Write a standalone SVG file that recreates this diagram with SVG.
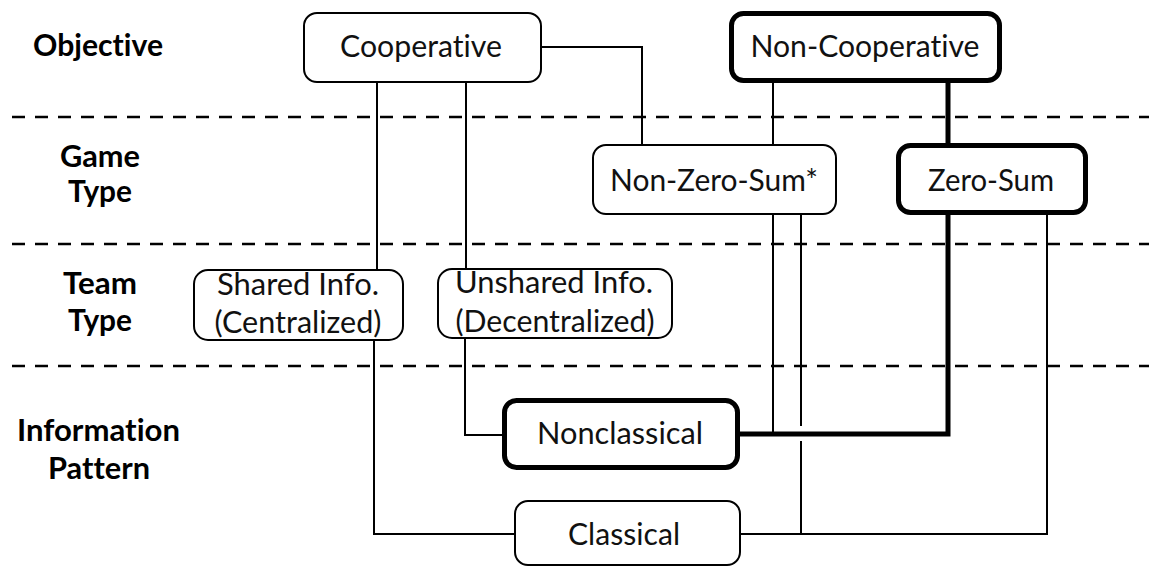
<svg xmlns="http://www.w3.org/2000/svg" width="1149" height="567" viewBox="0 0 1149 567">
<style>
  .bg{fill:#ffffff}
  .box{fill:#ffffff;stroke:#000;stroke-width:2}
  .boxB{fill:#ffffff;stroke:#000;stroke-width:5}
  .t{font-family:Lato,"Open Sans","Liberation Sans",sans-serif;font-size:30px;fill:#111;text-anchor:middle;font-variant-ligatures:none}
  .lbl{font-family:Lato,"Open Sans","Liberation Sans",sans-serif;font-size:30px;font-weight:bold;fill:#000;text-anchor:middle;font-variant-ligatures:none}
  .sep{stroke:#000;stroke-width:2.5;stroke-dasharray:13 10;fill:none}
  .c{stroke:#000;stroke-width:2;fill:none}
  .cB{stroke:#000;stroke-width:5;fill:none}
</style>
<rect class="bg" x="0" y="0" width="1149" height="567"/>
<g id="separators">
  <line class="sep" x1="12" y1="117" x2="1149" y2="117"/>
  <line class="sep" x1="12" y1="244" x2="1149" y2="244"/>
  <line class="sep" x1="12" y1="366" x2="1149" y2="366"/>
</g>
<g id="row-labels">
  <text class="lbl" x="98" y="56" textLength="130" lengthAdjust="spacingAndGlyphs">Objective</text>
  <text class="lbl" x="100" y="167" textLength="80" lengthAdjust="spacingAndGlyphs">Game</text>
  <text class="lbl" x="100" y="202" textLength="64" lengthAdjust="spacingAndGlyphs">Type</text>
  <text class="lbl" x="100" y="294" textLength="74" lengthAdjust="spacingAndGlyphs">Team</text>
  <text class="lbl" x="100" y="331" textLength="64" lengthAdjust="spacingAndGlyphs">Type</text>
  <text class="lbl" x="98.5" y="441" textLength="163" lengthAdjust="spacingAndGlyphs">Information</text>
  <text class="lbl" x="99" y="479" textLength="102" lengthAdjust="spacingAndGlyphs">Pattern</text>
</g>
<g id="connectors">
  <path class="c" d="M377 82 V270"/>
  <path class="c" d="M466 82 V269"/>
  <path class="c" d="M541 47 H642 V145"/>
  <path class="c" d="M773 82 V145"/>
  <path class="cB" d="M948 82 V145"/>
  <path class="c" d="M773 215 V432"/>
  <path class="c" d="M801 215 V426"/>
  <path class="c" d="M801 441 V534"/>
  <path class="cB" d="M948 215 V434 H738"/>
  <path class="c" d="M1047 215 V534 H740"/>
  <path class="c" d="M374 340 V534 H515"/>
  <path class="c" d="M465 338 V435 H504"/>
</g>
<g id="cooperative">
  <rect class="box" x="304" y="13" width="237" height="69" rx="13"/>
  <text class="t" x="421" y="57" textLength="162" lengthAdjust="spacingAndGlyphs">Cooperative</text>
</g>
<g id="non-cooperative">
  <rect class="boxB" x="731.5" y="13.5" width="268" height="67" rx="12"/>
  <text class="t" x="865" y="57" textLength="229" lengthAdjust="spacingAndGlyphs">Non-Cooperative</text>
</g>
<g id="non-zero-sum">
  <rect class="box" x="593" y="145" width="243" height="69" rx="13"/>
  <text class="t" x="714" y="191" textLength="208" lengthAdjust="spacingAndGlyphs">Non-Zero-Sum*</text>
</g>
<g id="zero-sum">
  <rect class="boxB" x="898.5" y="145.5" width="187" height="67" rx="12"/>
  <text class="t" x="991" y="191" textLength="126" lengthAdjust="spacingAndGlyphs">Zero-Sum</text>
</g>
<g id="shared-info">
  <rect class="box" x="194" y="270" width="209" height="70" rx="14"/>
  <text class="t" x="298" y="295" textLength="162" lengthAdjust="spacingAndGlyphs">Shared Info.</text>
  <text class="t" x="298" y="333" textLength="167" lengthAdjust="spacingAndGlyphs">(Centralized)</text>
</g>
<g id="unshared-info">
  <rect class="box" x="438" y="269" width="234" height="69" rx="14"/>
  <text class="t" x="554" y="293" textLength="198" lengthAdjust="spacingAndGlyphs">Unshared Info.</text>
  <text class="t" x="555" y="332" textLength="199" lengthAdjust="spacingAndGlyphs">(Decentralized)</text>
</g>
<g id="nonclassical">
  <rect class="boxB" x="504.5" y="400.5" width="233" height="67" rx="12"/>
  <text class="t" x="620" y="444" textLength="166" lengthAdjust="spacingAndGlyphs">Nonclassical</text>
</g>
<g id="classical">
  <rect class="box" x="515" y="501" width="225" height="64" rx="13"/>
  <text class="t" x="624" y="545" textLength="112" lengthAdjust="spacingAndGlyphs">Classical</text>
</g>
</svg>
